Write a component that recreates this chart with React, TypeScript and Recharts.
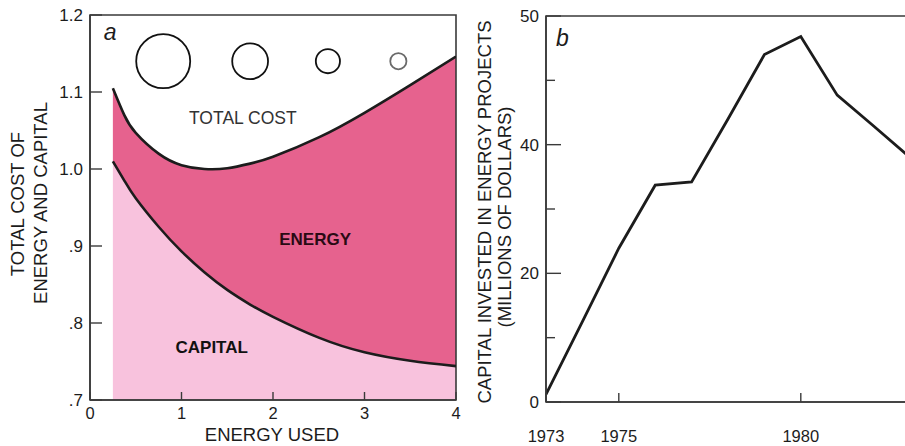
import { ComposedChart, LineChart, Area, Line, Scatter, XAxis, YAxis, ZAxis, ReferenceArea, ReferenceDot, Cell } from "recharts";

// panel a: cost of energy and capital
const energyUsed = [0.25, 0.375, 0.5, 0.75, 1, 1.25, 1.5, 1.75, 2, 2.5, 3, 3.5, 4];
const capitalCost = [1.01, 0.985, 0.962, 0.925, 0.893, 0.866, 0.843, 0.824, 0.808, 0.781, 0.762, 0.751, 0.744];
const totalCost = [1.105, 1.07, 1.047, 1.02, 1.005, 1.0, 1.001, 1.007, 1.016, 1.041, 1.073, 1.109, 1.146];

const bubbleX = [0.8, 1.75, 2.6, 3.37];
const bubbleY = [1.14, 1.14, 1.14, 1.14];
const bubbleArea = [1, 0.44, 0.2, 0.09];

const aXTicks = [0, 1, 2, 3, 4];
const aYTicks = [0.7, 0.8, 0.9, 1.0, 1.1, 1.2];
const aYLabels = [".7", ".8", ".9", "1.0", "1.1", "1.2"];

// panel b: capital invested
const years = [1973, 1974, 1975, 1976, 1977, 1978, 1979, 1980, 1981, 1982, 1983];
const invested = [1.2, 12.5, 23.9, 33.7, 34.2, 44, 54, 56.8, 47.7, 42.9, 38];
const bXTicks = [1973, 1975, 1980];
const bYTicks = [0, 10, 20, 30, 40, 50, 60];
const bYLabels = ["0", "", "20", "", "40", "", "50"];

const FONT = "'Liberation Sans', Arial, sans-serif";
const INK = "#1c1c1c";
const AXIS = "#3a3a3a";
const CAPITAL = "#f8c2dd";
const ENERGY = "#e6628e";

const costData = energyUsed.map((x, i) => ({
  x,
  capital: capitalCost[i],
  total: totalCost[i],
  capBand: [0.7, capitalCost[i]],
  energyBand: [capitalCost[i], totalCost[i]],
}));
const bubbles = bubbleX.map((x, i) => ({ x, y: bubbleY[i], z: bubbleArea[i] }));
const investData = years.map((year, i) => ({ year, value: invested[i] }));

function YTick({ x, y, payload, labels, ticks, len, minorLen }: any) {
  const label = labels[ticks.indexOf(payload.value)] ?? "";
  const l = label === "" && minorLen ? minorLen : len;
  return (
    <g>
      <line x1={x} x2={x + l} y1={y} y2={y} stroke={AXIS} strokeWidth={1.4} />
      <text x={x - 7} y={y} dy="0.36em" textAnchor="end" fontSize={17} fill={INK} fontFamily={FONT}>{label}</text>
    </g>
  );
}

function XTick({ x, y, payload, len, gap }: any) {
  return (
    <g>
      <line x1={x} x2={x} y1={y} y2={y - len} stroke={AXIS} strokeWidth={1.4} />
      <text x={x} y={y + gap} dy="0.71em" textAnchor="middle" fontSize={16.5} fill={INK} fontFamily={FONT}>{payload.value}</text>
    </g>
  );
}

const textAt = (txt: string, style: any) => (p: any) => (
  <text x={p.cx} y={p.cy} dy="0.36em" textAnchor="middle" fontFamily={FONT} {...style}>{txt}</text>
);

const vTitle: any = {
  position: "absolute",
  transform: "translate(-50%, -50%) rotate(-90deg)",
  whiteSpace: "nowrap",
  fontFamily: FONT,
  fontSize: 18.5,
  color: INK,
  lineHeight: 1,
};

export default function App() {
  return (
    <div style={{ position: "absolute", left: 0, top: 0, width: 905, height: 446, overflow: "hidden", background: "#fff" }}>
      <div style={{ position: "absolute", left: 0, top: 0 }}>
        <ComposedChart width={470} height={446} data={costData} margin={{ top: 15, right: 14, bottom: 0, left: 0 }}>
          <XAxis dataKey="x" type="number" domain={[0, 4]} ticks={aXTicks} interval={0} height={46} tickSize={0} tickMargin={0}
            axisLine={{ stroke: AXIS, strokeWidth: 1.6 }} tickLine={false} allowDataOverflow
            tick={(p: any) => <XTick {...p} len={8} gap={7} />} />
          <YAxis type="number" domain={[0.7, 1.2]} ticks={aYTicks} interval={0} width={90} tickSize={0} tickMargin={0}
            axisLine={{ stroke: AXIS, strokeWidth: 1.6 }} tickLine={false} allowDataOverflow
            tick={(p: any) => <YTick {...p} labels={aYLabels} ticks={aYTicks} len={12} />} />
          <ZAxis dataKey="z" type="number" domain={[0, 1]} range={[0, 2290]} />
          <Area dataKey="capBand" type="natural" fill={CAPITAL} fillOpacity={1} stroke="none" isAnimationActive={false} activeDot={false} />
          <Area dataKey="energyBand" type="natural" fill={ENERGY} fillOpacity={1} stroke="none" isAnimationActive={false} activeDot={false} />
          <Line dataKey="capital" type="natural" stroke={INK} strokeWidth={2.6} dot={false} isAnimationActive={false} />
          <Line dataKey="total" type="natural" stroke={INK} strokeWidth={2.6} dot={false} isAnimationActive={false} />
          <Scatter data={bubbles} dataKey="y" isAnimationActive={false}
            shape={(p: any) => <circle cx={p.cx} cy={p.cy} r={p.width / 2} fill="none" stroke={p.stroke} strokeWidth={1.8} />}>
            {bubbles.map((_, i) => <Cell key={i} stroke={i === bubbles.length - 1 ? "#6a6a6a" : "#111"} />)}
          </Scatter>
          <ReferenceArea x1={0} x2={4} y1={0.7} y2={1.2} fill="none" stroke={AXIS} strokeWidth={1.6} />
          <ReferenceDot x={0.22} y={1.178} shape={textAt("a", { fontSize: 23, fontStyle: "italic", fill: INK })} />
          <ReferenceDot x={1.67} y={1.066} shape={textAt("TOTAL COST", { fontSize: 17.5, fill: "#333" })} />
          <ReferenceDot x={2.46} y={0.909} shape={textAt("ENERGY", { fontSize: 17, fontWeight: 700, fill: "#2a0a14" })} />
          <ReferenceDot x={1.33} y={0.769} shape={textAt("CAPITAL", { fontSize: 17, fontWeight: 700, fill: "#111" })} />
        </ComposedChart>
      </div>
      <div style={{ ...vTitle, left: 18, top: 204 }}>TOTAL COST OF</div>
      <div style={{ ...vTitle, left: 41, top: 203 }}>ENERGY AND CAPITAL</div>
      <div style={{ position: "absolute", left: 272, top: 435, transform: "translate(-50%, -50%)", whiteSpace: "nowrap", fontFamily: FONT, fontSize: 18.5, color: INK, lineHeight: 1 }}>ENERGY USED</div>

      <div style={{ position: "absolute", left: 440, top: 0 }}>
        <LineChart width={470} height={446} data={investData} margin={{ top: 16, right: 0, bottom: 0, left: 0 }}>
          <XAxis dataKey="year" type="number" domain={[1973, 1983]} ticks={bXTicks} interval={0} height={44} tickSize={0} tickMargin={0}
            axisLine={{ stroke: AXIS, strokeWidth: 1.6 }} tickLine={false} allowDataOverflow
            tick={(p: any) => <XTick {...p} len={9} gap={28} />} />
          <YAxis type="number" domain={[0, 60]} ticks={bYTicks} interval={0} width={106} tickSize={0} tickMargin={0}
            axisLine={{ stroke: AXIS, strokeWidth: 1.6 }} tickLine={false} allowDataOverflow
            tick={(p: any) => <YTick {...p} labels={bYLabels} ticks={bYTicks} len={15} minorLen={9} />} />
          <ReferenceArea x1={1973} x2={1983} y1={0} y2={60} fill="none" stroke={AXIS} strokeWidth={1.6} />
          <Line dataKey="value" type="linear" stroke={INK} strokeWidth={2.8} dot={false} isAnimationActive={false} />
          <ReferenceDot x={1973.45} y={56.6} shape={textAt("b", { fontSize: 23, fontStyle: "italic", fill: INK })} />
        </LineChart>
      </div>
      <div style={{ ...vTitle, left: 485, top: 212 }}>CAPITAL INVESTED IN ENERGY PROJECTS</div>
      <div style={{ ...vTitle, left: 505, top: 217 }}>(MILLIONS OF DOLLARS)</div>
    </div>
  );
}
